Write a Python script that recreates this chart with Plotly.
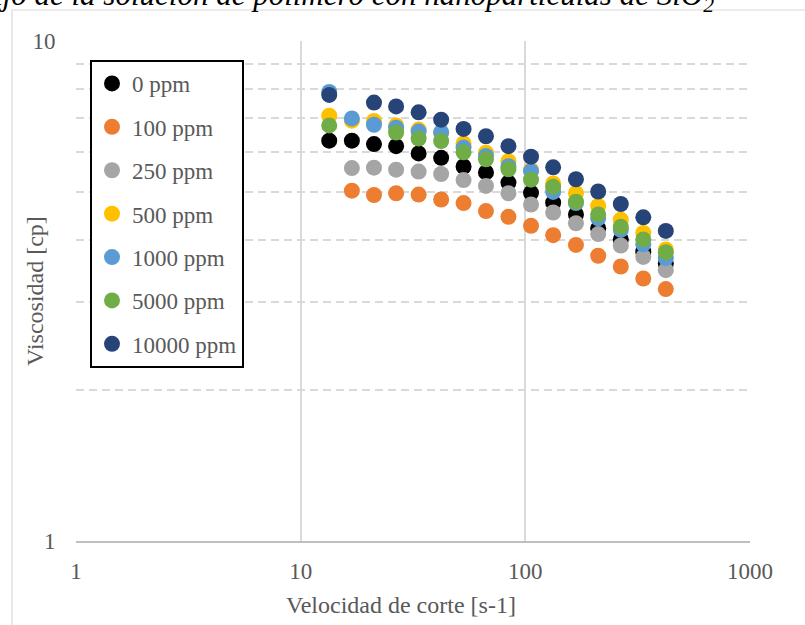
import plotly.graph_objects as go

# Shear rate [1/s]
shear_rate = [13.4, 16.9, 21.2, 26.6, 33.5, 42.2, 53.1, 66.8, 84.1, 106, 133, 168, 211, 266, 335, 422]

# Viscosity [cp] per nanoparticle concentration (None = not measured)
visc_0 = [6.32, 6.32, 6.22, 6.16, 5.96, 5.84, 5.61, 5.46, 5.21, 4.97, 4.75, 4.50, 4.22, 4.01, 3.79, 3.59]
visc_100 = [None, 5.02, 4.92, 4.96, 4.93, 4.82, 4.74, 4.57, 4.45, 4.27, 4.09, 3.91, 3.72, 3.54, 3.35, 3.19]
visc_250 = [None, 5.57, 5.58, 5.53, 5.48, 5.42, 5.27, 5.13, 4.96, 4.71, 4.54, 4.32, 4.11, 3.90, 3.70, 3.48]
visc_500 = [7.09, 6.93, 6.92, 6.78, 6.65, 6.55, 6.24, 5.98, 5.75, 5.52, 5.19, 4.96, 4.68, 4.39, 4.13, 3.83]
visc_1000 = [7.91, 7.00, 6.80, 6.71, 6.59, 6.57, 6.12, 5.89, 5.62, 5.49, 4.99, 4.74, 4.42, 4.19, 3.92, 3.68]
visc_5000 = [6.78, None, None, 6.56, 6.38, 6.31, 5.99, 5.80, 5.54, 5.28, 5.11, 4.77, 4.50, 4.25, 4.01, 3.78]
visc_10000 = [7.80, None, 7.53, 7.40, 7.20, 6.96, 6.67, 6.45, 6.16, 5.87, 5.59, 5.29, 5.00, 4.72, 4.44, 4.17]

series_names = ["0 ppm", "100 ppm", "250 ppm", "500 ppm", "1000 ppm", "5000 ppm", "10000 ppm"]
series_values = [visc_0, visc_100, visc_250, visc_500, visc_1000, visc_5000, visc_10000]
series_colors = ["#000000", "#ED7D31", "#A5A5A5", "#FFC000", "#5B9BD5", "#70AD47", "#264478"]

x_tick_vals = [1, 10, 100, 1000]
x_tick_text = ["1", "10", "100", "1000"]
y_tick_vals = [1, 10]
y_tick_text = ["1", "10"]
y_minor_vals = [2, 3, 4, 5, 6, 7, 8, 9]

FONT = "Liberation Serif, Times New Roman, serif"
TXT = "#595959"
GRID = "#D9D9D9"

W, H = 805, 625
ML, MR, MT, MB = 76, 55, 41, 84
PW, PH = W - ML - MR, H - MT - MB


def px_x(p):
    return (p - ML) / PW


def px_y(p):
    return (H - MB - p) / PH


fig = go.Figure()
for name, vals, col in zip(series_names, series_values, series_colors):
    fig.add_trace(go.Scatter(
        x=shear_rate, y=vals, mode="markers", name=name,
        legendgroup=name,
        marker=dict(size=16, color=col, line=dict(width=0)),
    ))

fig.update_layout(
    width=W, height=H,
    margin=dict(l=ML, r=MR, t=MT, b=MB),
    paper_bgcolor="white", plot_bgcolor="white",
    font=dict(family=FONT, color=TXT, size=23),
    showlegend=True,
    legend=dict(
        x=px_x(90), y=px_y(60), xanchor="left", yanchor="top",
        bordercolor="black", borderwidth=2, bgcolor="white",
        font=dict(family=FONT, size=23, color=TXT),
        tracegroupgap=10.5, traceorder="grouped",
    ),
    xaxis=dict(
        type="log", range=[0, 3],
        tickvals=x_tick_vals, ticktext=x_tick_text,
        showgrid=True, gridcolor=GRID, gridwidth=1.5,
        showline=True, linecolor="#BFBFBF", linewidth=1.5, mirror=False,
        ticks="outside", ticklen=9, tickcolor="rgba(0,0,0,0)",
        zeroline=False,
        tickfont=dict(family=FONT, size=23, color=TXT),
    ),
    yaxis=dict(
        type="log", range=[0, 1],
        tickvals=y_tick_vals, ticktext=y_tick_text,
        showgrid=True, gridcolor=GRID, gridwidth=1.5,
        showline=False,
        ticks="outside", ticklen=15, tickcolor="rgba(0,0,0,0)",
        zeroline=False,
        tickfont=dict(family=FONT, size=23, color=TXT),
        minor=dict(tickvals=y_minor_vals, showgrid=True, gridcolor=GRID,
                   gridwidth=2, griddash="8px,5px", ticks=""),
    ),
)

# Outer chart frame
fig.add_shape(type="rect", xref="paper", yref="paper",
              x0=px_x(12), y0=px_y(10), x1=px_x(830), y1=px_y(650),
              line=dict(color=GRID, width=1.2), fillcolor="rgba(0,0,0,0)", layer="below")

# Title (runs past the top and left edges of the page)
fig.add_annotation(
    text="Comportamiento de flujo de la solución de polímero con nanopartículas de SiO<sub>2</sub>",
    xref="paper", yref="paper", x=px_x(716), y=px_y(-3),
    xanchor="right", yanchor="middle", showarrow=False,
    font=dict(family=FONT, size=31, color="black", style="italic"),
)

# Axis titles
fig.add_annotation(text="Velocidad de corte [s-1]", xref="paper", yref="paper",
                   x=px_x(401), y=px_y(605), xanchor="center", yanchor="middle",
                   showarrow=False, font=dict(family=FONT, size=24, color=TXT))
fig.add_annotation(text="Viscosidad [cp]", xref="paper", yref="paper",
                   x=px_x(35), y=px_y(291), xanchor="center", yanchor="middle",
                   textangle=-90, showarrow=False, font=dict(family=FONT, size=24, color=TXT))

fig.write_html("out.html")
